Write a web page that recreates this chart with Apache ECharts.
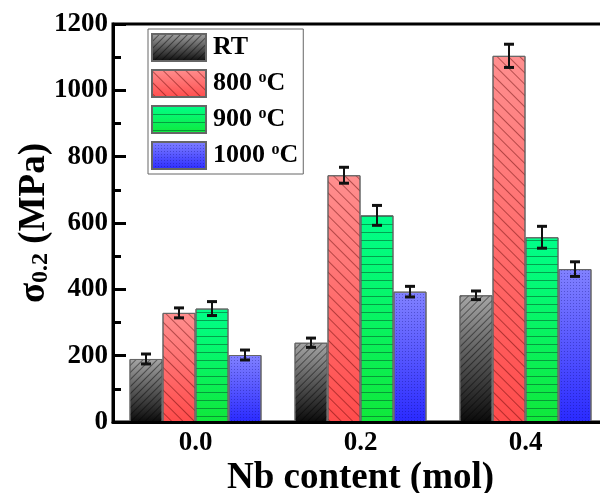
<!DOCTYPE html>
<html>
<head>
<meta charset="utf-8">
<script src="https://cdn.jsdelivr.net/npm/echarts@6/dist/echarts.min.js"></script>
<style>html,body{margin:0;padding:0;background:#fff}#c{width:600px;height:493px}</style>
</head>
<body>
<div id="c"></div>
<script>
const categories = ['0.0', '0.2', '0.4'];
const seriesNames = ['RT', '800', '900', '1000'];
const valRT = [190, 239, 382];
const errRT = [15, 14, 13];
const val800 = [329, 744, 1104];
const err800 = [15, 24, 35];
const val900 = [342, 623, 557];
const err900 = [21, 30, 33];
const val1000 = [202, 393, 461];
const err1000 = [15, 16, 22];
const yTicks = [0, 200, 400, 600, 800, 1000, 1200];

const FONT = "'Liberation Serif','Times New Roman',serif";
const values = [valRT, val800, val900, val1000];
const errors = [errRT, err800, err900, err1000];

function grad(top, bottom) {
  return new echarts.graphic.LinearGradient(0, 0, 0, 1, [
    {offset: 0, color: top}, {offset: 1, color: bottom}
  ]);
}
const styles = [
  {color: grad('#a6a6a6', '#0a0a0a'),
   decal: {symbol: 'rect', symbolSize: 1, color: 'rgba(0,0,0,0.45)', dashArrayX: [1, 0], dashArrayY: [1, 4], rotation: -Math.PI / 4}},
  {color: grad('#ff8f8f', '#ff4c4c'),
   decal: {symbol: 'rect', symbolSize: 1, color: 'rgba(90,0,0,0.45)', dashArrayX: [1, 0], dashArrayY: [1, 7], rotation: Math.PI / 4}},
  {color: grad('#00ff8a', '#10e83a'),
   decal: {symbol: 'rect', symbolSize: 1, color: 'rgba(0,90,40,0.55)', dashArrayX: [1, 0], dashArrayY: [1, 7], rotation: 0}},
  {color: grad('#8282ff', '#2a2aff'),
   decal: {symbol: 'rect', symbolSize: 1, color: 'rgba(0,0,110,0.3)', dashArrayX: [1, 2], dashArrayY: [1, 2], rotation: 0}}
];

const barSeries = seriesNames.map((n, s) => ({
  name: n,
  type: 'bar',
  data: values[s],
  barGap: '0%',
  barCategoryGap: '20%',
  itemStyle: Object.assign({borderColor: '#666', borderWidth: 1}, styles[s]),
  z: 2
}));

const errData = [];
seriesNames.forEach((n, s) => {
  values[s].forEach((v, i) => {
    errData.push([i, v - errors[s][i], v + errors[s][i], s]);
  });
});

const errSeries = {
  type: 'custom',
  name: 'err',
  data: errData,
  encode: {x: 0, y: [1, 2]},
  z: 5,
  renderItem: function (params, api) {
    const cat = api.value(0), lo = api.value(1), hi = api.value(2), s = api.value(3);
    const bandW = api.size([1, 0])[0];
    const barW = bandW * 0.8 / 4;
    const c = api.coord([cat, 0]);
    const x = c[0] + (s - 1.5) * barW;
    const yLo = api.coord([cat, lo])[1];
    const yHi = api.coord([cat, hi])[1];
    const cap = 5;
    const st = {stroke: '#111', lineWidth: 2};
    const stc = {stroke: '#111', lineWidth: 3};
    return {type: 'group', children: [
      {type: 'line', shape: {x1: x, y1: yLo, x2: x, y2: yHi}, style: st},
      {type: 'line', shape: {x1: x - cap, y1: yHi, x2: x + cap, y2: yHi}, style: stc},
      {type: 'line', shape: {x1: x - cap, y1: yLo, x2: x + cap, y2: yLo}, style: stc}
    ]};
  }
};

const chart = echarts.init(document.getElementById('c'), null, {renderer: 'canvas'});
chart.setOption({
  animation: false,
  backgroundColor: '#fff',
  textStyle: {fontFamily: FONT},
  grid: {left: 113, top: 24, width: 495, height: 398, containLabel: false, outerBoundsMode: 'none',
         show: true, borderColor: '#000', borderWidth: 3, backgroundColor: 'transparent'},
  legend: {
    data: seriesNames,
    orient: 'vertical',
    left: 148, top: 29,
    icon: 'rect',
    itemWidth: 54, itemHeight: 27, itemGap: 7,
    padding: [4, 5, 4, 3],
    borderColor: '#666', borderWidth: 1,
    backgroundColor: '#fff',
    formatter: function (name) {
      return name === 'RT' ? '{t|RT}' : '{t|' + name + ' }{sup|o}{t|C}';
    },
    textStyle: {
      fontFamily: FONT, fontWeight: 'bold', fontSize: 26, color: '#000', padding: [0, 0, 0, 2],
      rich: {
        t: {fontFamily: FONT, fontWeight: 'bold', fontSize: 26, color: '#000'},
        sup: {fontFamily: FONT, fontWeight: 'bold', fontSize: 16, color: '#000', verticalAlign: 'top', padding: [0, 0, 12, 0]}
      }
    }
  },
  xAxis: {
    type: 'category',
    data: categories,
    z: 10,
    axisLine: {lineStyle: {color: '#000', width: 3}},
    axisTick: {inside: true, alignWithLabel: true, length: 13, lineStyle: {color: '#000', width: 3}},
    axisLabel: {fontFamily: FONT, fontWeight: 'bold', fontSize: 27, color: '#000', margin: 8},
    name: 'Nb content (mol)',
    nameLocation: 'middle',
    nameGap: 38,
    nameMoveOverlap: false,
    nameTextStyle: {fontFamily: FONT, fontWeight: 'bold', fontSize: 37, color: '#000'}
  },
  yAxis: {
    type: 'value',
    min: yTicks[0], max: yTicks[yTicks.length - 1], interval: yTicks[1] - yTicks[0],
    z: 10,
    splitLine: {show: false},
    axisLine: {show: true, lineStyle: {color: '#000', width: 3}},
    axisTick: {show: true, inside: true, length: 13, lineStyle: {color: '#000', width: 3}},
    minorTick: {show: true, splitNumber: 2, length: 8, lineStyle: {color: '#000', width: 3}},
    axisLabel: {fontFamily: FONT, fontWeight: 'bold', fontSize: 27, color: '#000', margin: 5,
                formatter: function (v) { return String(v); }},
    name: '{s|σ}{sub|0.2}{s| (MPa)}',
    nameLocation: 'middle',
    nameGap: 60,
    nameMoveOverlap: false,
    nameTextStyle: {
      fontFamily: FONT, fontWeight: 'bold', fontSize: 37, color: '#000',
      rich: {
        s: {fontFamily: FONT, fontWeight: 'bold', fontSize: 37, color: '#000'},
        sub: {fontFamily: FONT, fontWeight: 'bold', fontSize: 24, color: '#000', verticalAlign: 'bottom', padding: [12, 0, 0, 0]}
      }
    }
  },
  series: barSeries.concat([errSeries])
});
</script>
</body>
</html>
